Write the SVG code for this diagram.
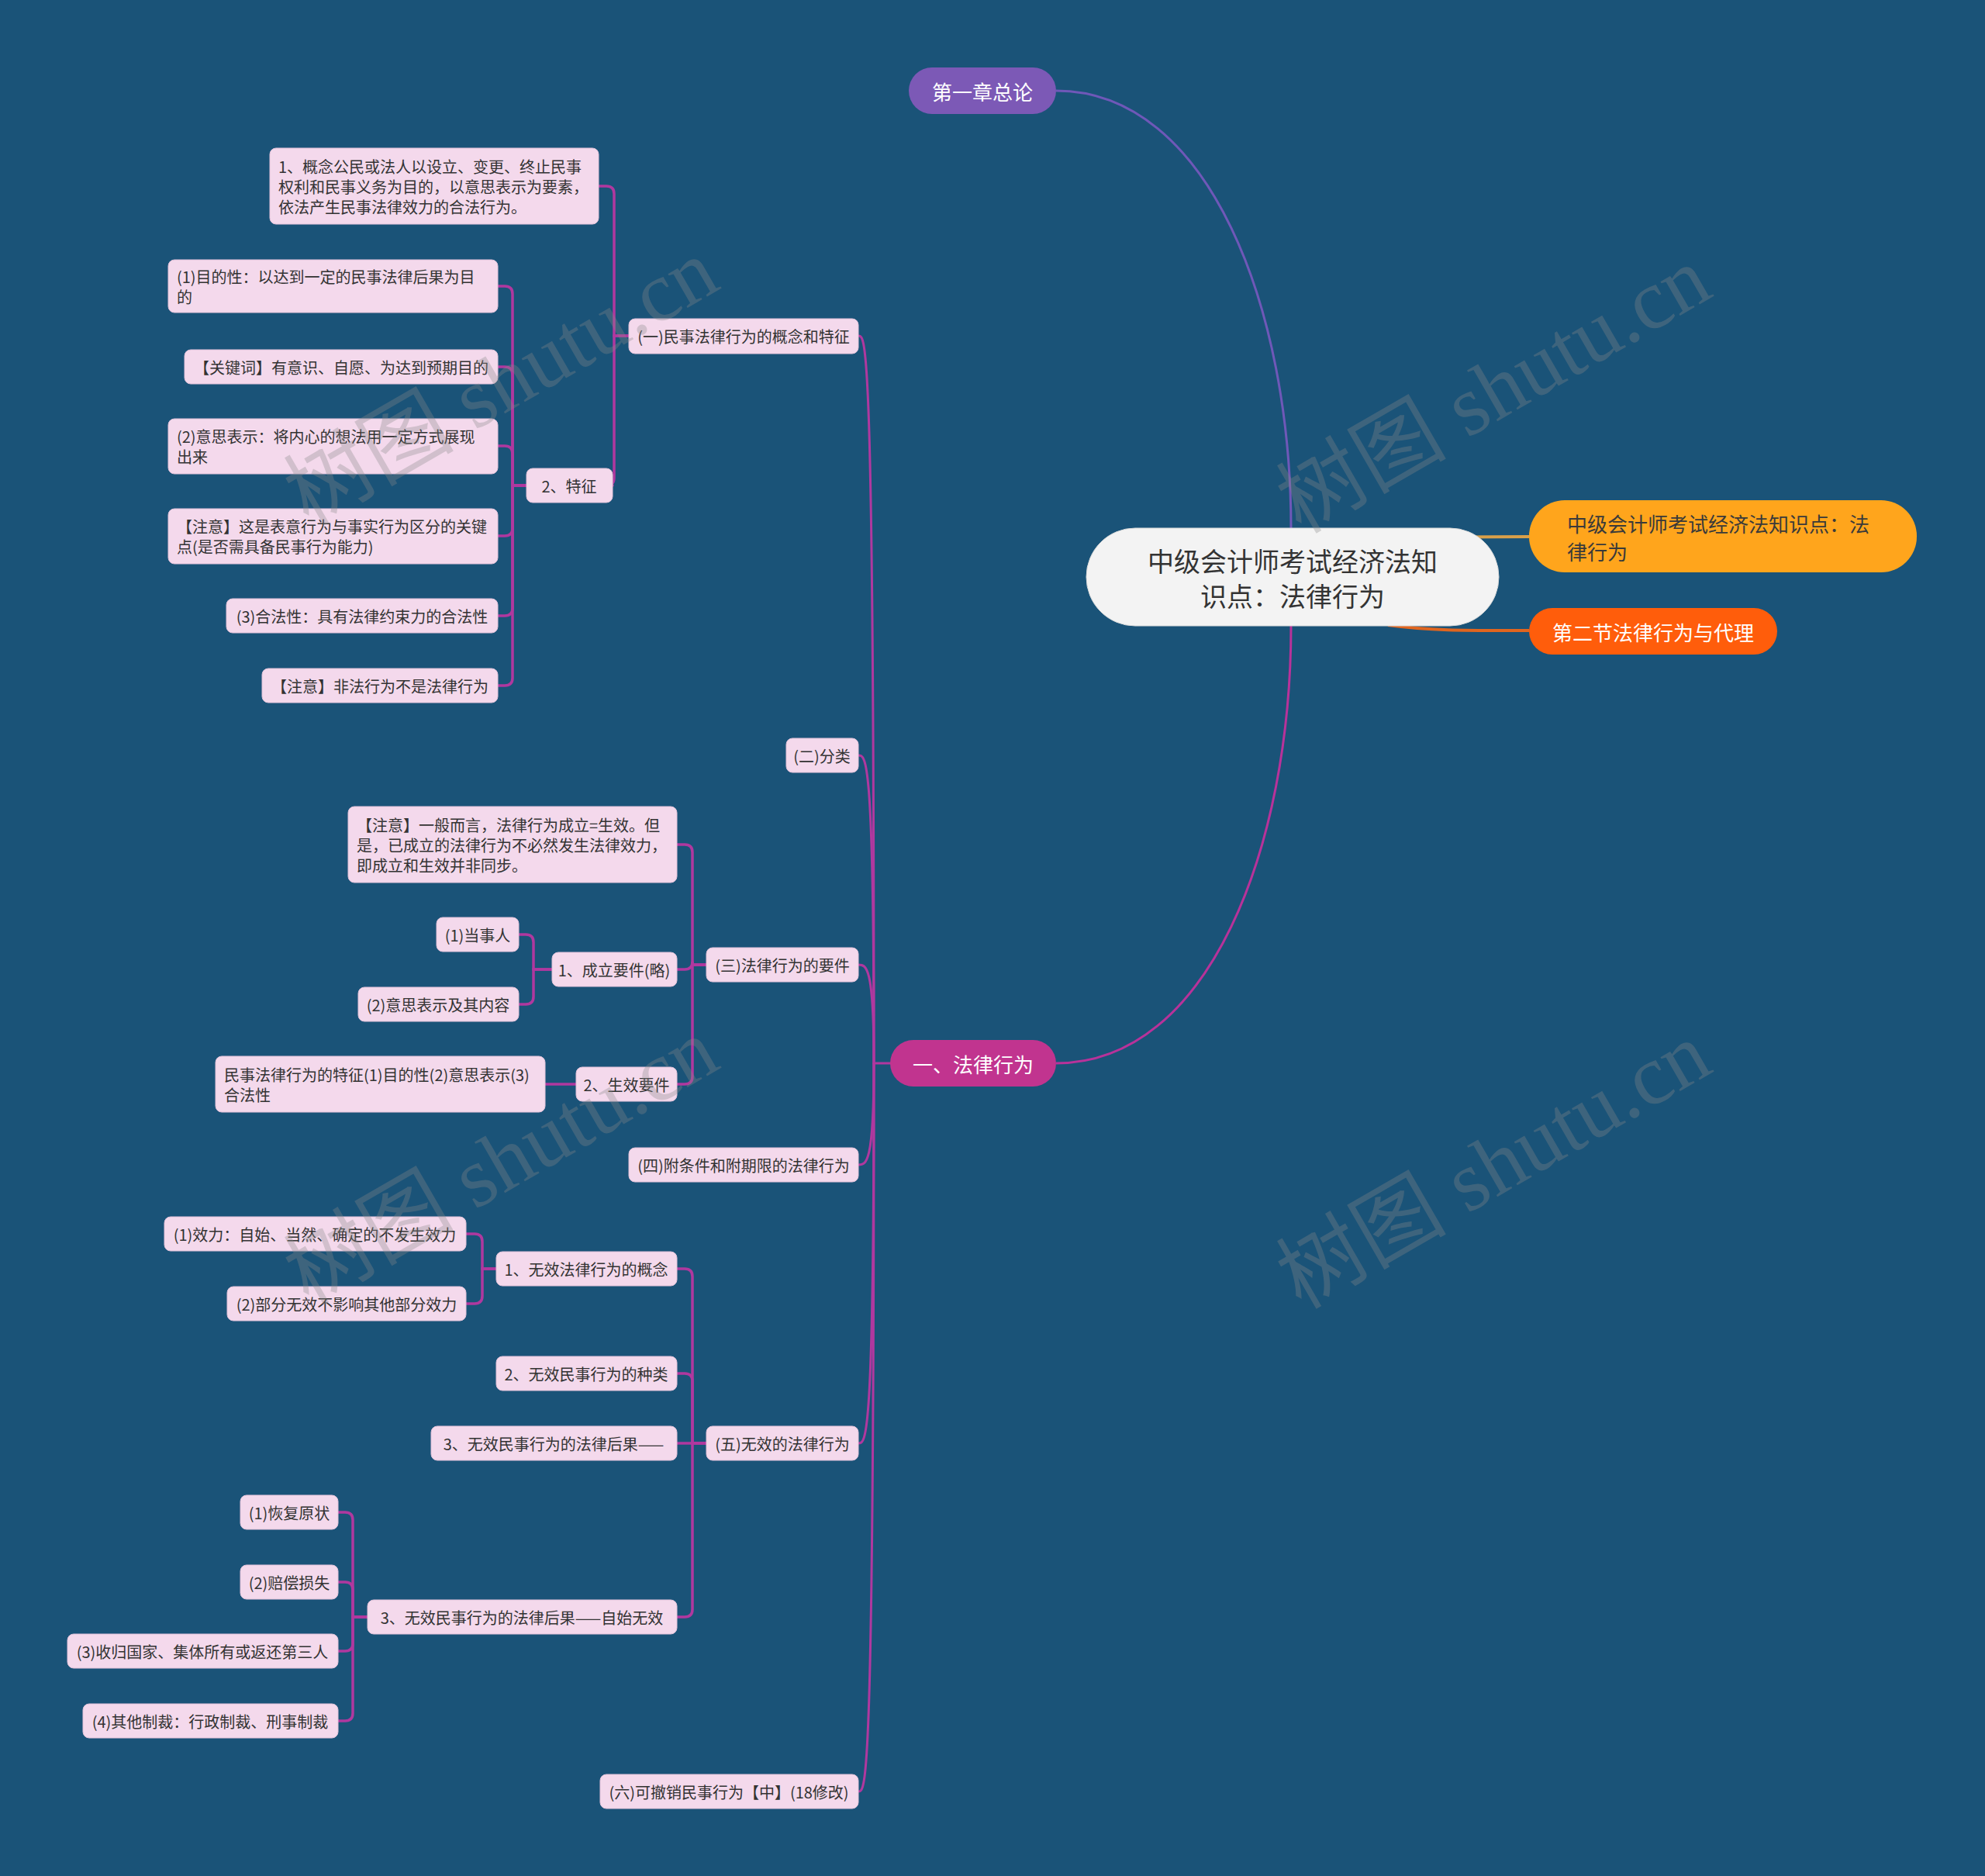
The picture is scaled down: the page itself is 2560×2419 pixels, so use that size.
<svg xmlns="http://www.w3.org/2000/svg" width="2560" height="2419" viewBox="0 0 2560 2419">
<style>
.bg{fill:#1a5378}
.pk rect{fill:#f4d9ec;stroke:#e2c3da;stroke-width:1}
.pk text{font-family:"Noto Sans CJK SC","Noto Sans",sans-serif;font-size:20px;fill:#333333;dominant-baseline:central}
.c{text-anchor:middle}
.conn path{fill:none;stroke:#b0389f;stroke-width:3.5;stroke-linecap:round}
.conn path.l2{stroke-width:3}
.big text{font-family:"Noto Sans CJK SC","Noto Sans",sans-serif;dominant-baseline:central}
.wm text{font-family:"Liberation Serif","Noto Sans CJK SC",serif;font-size:110px;fill:#8a8a8a;opacity:0.32}
</style>
<rect class="bg" x="0" y="0" width="2560" height="2419"/>

<g id="connectors">
  <path d="M1362 117 C1560 117 1665 400 1665 681" fill="none" stroke="#6f58b8" stroke-width="3"/>
  <path d="M1362 1371 C1560 1371 1665 1090 1665 807" fill="none" stroke="#b8329a" stroke-width="3"/>
  <path d="M1800 694 C1880 692 1930 692 1972 692" fill="none" stroke="#d9a04a" stroke-width="4"/>
  <path d="M1790 806 C1850 814 1900 813 1972 813" fill="none" stroke="#e0651f" stroke-width="4"/>
  <g class="conn">
    <path class="l2" d="M1148 1371 H1127"/>
    <path class="l2" d="M1127 1371 C1127 433 1117 433 1107 433"/>
    <path class="l2" d="M1127 1371 C1127 974 1117 974 1107 974"/>
    <path class="l2" d="M1127 1371 C1127 1244 1117 1244 1107 1244"/>
    <path class="l2" d="M1127 1371 C1127 1502 1117 1502 1107 1502"/>
    <path class="l2" d="M1127 1371 C1127 1861 1117 1861 1107 1861"/>
    <path class="l2" d="M1127 1371 C1127 2310 1117 2310 1107 2310"/>
    <!-- (一) -->
    <path d="M811 433 H792 V250 Q792 240 782 240 H772"/>
    <path d="M811 433 H792 V616 Q792 626 782 626 H790"/>
    <!-- 2、特征 -->
    <path d="M679 626 H661 V379 Q661 369 651 369 H642"/>
    <path d="M679 626 H661 V483 Q661 473 651 473 H642"/>
    <path d="M679 626 H661 V585 Q661 575 651 575 H642"/>
    <path d="M679 626 H661 V681 Q661 691 651 691 H642"/>
    <path d="M679 626 H661 V784 Q661 794 651 794 H642"/>
    <path d="M679 626 H661 V874 Q661 884 651 884 H642"/>
    <!-- (三) -->
    <path d="M911 1244 H893 V1099 Q893 1089 883 1089 H873"/>
    <path d="M911 1244 H893 V1240 Q893 1250 883 1250 H873"/>
    <path d="M911 1244 H893 V1388 Q893 1398 883 1398 H873"/>
    <!-- 1、成立要件 -->
    <path d="M712 1250 H688 V1215 Q688 1205 678 1205 H669"/>
    <path d="M712 1250 H688 V1285 Q688 1295 678 1295 H669"/>
    <!-- 2、生效要件 -->
    <path d="M743 1398 H703"/>
    <!-- (五) -->
    <path d="M911 1861 H893 V1646 Q893 1636 883 1636 H873"/>
    <path d="M911 1861 H893 V1781 Q893 1771 883 1771 H873"/>
    <path d="M911 1861 H873"/>
    <path d="M911 1861 H893 V2075 Q893 2085 883 2085 H873"/>
    <!-- 1、无效法律行为的概念 -->
    <path d="M640 1636 H622 V1601 Q622 1591 612 1591 H601"/>
    <path d="M640 1636 H622 V1671 Q622 1681 612 1681 H601"/>
    <!-- 3、...自始无效 -->
    <path d="M474 2085 H455 V1960 Q455 1950 445 1950 H436"/>
    <path d="M474 2085 H455 V2050 Q455 2040 445 2040 H436"/>
    <path d="M474 2085 H455 V2119 Q455 2129 445 2129 H436"/>
    <path d="M474 2085 H455 V2209 Q455 2219 445 2219 H436"/>
  </g>
</g>

<g class="big">
  <g id="center">
    <rect x="1401" y="681" width="532" height="126" rx="63" fill="#f3f3f3" stroke="#dddddd" stroke-width="1"/>
    <text x="1667" y="722" font-size="34" fill="#333333" text-anchor="middle">中级会计师考试经济法知</text>
    <text x="1667" y="767" font-size="34" fill="#333333" text-anchor="middle">识点：法律行为</text>
  </g>
  <g id="n-ch1">
    <rect x="1172" y="87" width="190" height="60" rx="30" fill="#7c59b6"/>
    <text x="1267" y="117" font-size="26" fill="#ffffff" text-anchor="middle">第一章总论</text>
  </g>
  <g id="n-title">
    <rect x="1972" y="645" width="500" height="93" rx="46" fill="#ffa51c"/>
    <text x="2021" y="674" font-size="26" fill="#3a3a3a">中级会计师考试经济法知识点：法</text>
    <text x="2021" y="710" font-size="26" fill="#3a3a3a">律行为</text>
  </g>
  <g id="n-sec2">
    <rect x="1972" y="784" width="320" height="60" rx="30" fill="#ff5d0b"/>
    <text x="2132" y="814" font-size="26" fill="#ffffff" text-anchor="middle">第二节法律行为与代理</text>
  </g>
  <g id="n-main">
    <rect x="1148" y="1341" width="214" height="60" rx="30" fill="#c1348f"/>
    <text x="1255" y="1371" font-size="26" fill="#ffffff" text-anchor="middle">一、法律行为</text>
  </g>
</g>

<g class="pk">
  <g id="n-1"><rect x="811" y="411" width="296" height="45" rx="8"/><text class="c" x="959" y="433">(一)民事法律行为的概念和特征</text></g>
  <g id="n-1-1"><rect x="348" y="191" width="424" height="98" rx="8"/>
    <text x="359" y="214">1、概念公民或法人以设立、变更、终止民事</text>
    <text x="359" y="240">权利和民事义务为目的，以意思表示为要素，</text>
    <text x="359" y="266">依法产生民事法律效力的合法行为。</text></g>
  <g id="n-1-2"><rect x="679" y="604" width="111" height="44" rx="8"/><text class="c" x="734" y="626">2、特征</text></g>
  <g id="n-1-2-1"><rect x="217" y="335" width="425" height="68" rx="8"/>
    <text x="228" y="356">(1)目的性：以达到一定的民事法律后果为目</text>
    <text x="228" y="382">的</text></g>
  <g id="n-1-2-2"><rect x="238" y="451" width="404" height="44" rx="8"/><text class="c" x="440" y="473">【关键词】有意识、自愿、为达到预期目的</text></g>
  <g id="n-1-2-3"><rect x="217" y="540" width="425" height="71" rx="8"/>
    <text x="228" y="562">(2)意思表示：将内心的想法用一定方式展现</text>
    <text x="228" y="588">出来</text></g>
  <g id="n-1-2-4"><rect x="217" y="656" width="425" height="71" rx="8"/>
    <text x="228" y="678">【注意】这是表意行为与事实行为区分的关键</text>
    <text x="228" y="704">点(是否需具备民事行为能力)</text></g>
  <g id="n-1-2-5"><rect x="292" y="772" width="350" height="44" rx="8"/><text class="c" x="467" y="794">(3)合法性：具有法律约束力的合法性</text></g>
  <g id="n-1-2-6"><rect x="338" y="862" width="304" height="44" rx="8"/><text class="c" x="490" y="884">【注意】非法行为不是法律行为</text></g>

  <g id="n-2"><rect x="1014" y="952" width="93" height="44" rx="8"/><text class="c" x="1060" y="974">(二)分类</text></g>

  <g id="n-3"><rect x="911" y="1222" width="196" height="44" rx="8"/><text class="c" x="1009" y="1244">(三)法律行为的要件</text></g>
  <g id="n-3-0"><rect x="449" y="1040" width="424" height="98" rx="8"/>
    <text x="460" y="1063">【注意】一般而言，法律行为成立=生效。但</text>
    <text x="460" y="1089">是，已成立的法律行为不必然发生法律效力，</text>
    <text x="460" y="1115">即成立和生效并非同步。</text></g>
  <g id="n-3-1"><rect x="712" y="1228" width="161" height="44" rx="8"/><text class="c" x="792" y="1250">1、成立要件(略)</text></g>
  <g id="n-3-1-1"><rect x="563" y="1183" width="106" height="44" rx="8"/><text class="c" x="616" y="1205">(1)当事人</text></g>
  <g id="n-3-1-2"><rect x="462" y="1273" width="207" height="44" rx="8"/><text class="c" x="565" y="1295">(2)意思表示及其内容</text></g>
  <g id="n-3-2"><rect x="743" y="1376" width="130" height="44" rx="8"/><text class="c" x="808" y="1398">2、生效要件</text></g>
  <g id="n-3-2-1"><rect x="278" y="1362" width="425" height="72" rx="8"/>
    <text x="289" y="1385">民事法律行为的特征(1)目的性(2)意思表示(3)</text>
    <text x="289" y="1411">合法性</text></g>

  <g id="n-4"><rect x="811" y="1480" width="296" height="44" rx="8"/><text class="c" x="959" y="1502">(四)附条件和附期限的法律行为</text></g>

  <g id="n-5"><rect x="911" y="1839" width="196" height="44" rx="8"/><text class="c" x="1009" y="1861">(五)无效的法律行为</text></g>
  <g id="n-5-1"><rect x="640" y="1614" width="233" height="44" rx="8"/><text class="c" x="756" y="1636">1、无效法律行为的概念</text></g>
  <g id="n-5-1-1"><rect x="212" y="1569" width="389" height="44" rx="8"/><text class="c" x="406" y="1591">(1)效力：自始、当然、确定的不发生效力</text></g>
  <g id="n-5-1-2"><rect x="293" y="1659" width="308" height="44" rx="8"/><text class="c" x="447" y="1681">(2)部分无效不影响其他部分效力</text></g>
  <g id="n-5-2"><rect x="640" y="1749" width="233" height="44" rx="8"/><text class="c" x="756" y="1771">2、无效民事行为的种类</text></g>
  <g id="n-5-3"><rect x="556" y="1839" width="317" height="44" rx="8"/><text class="c" x="714" y="1861">3、无效民事行为的法律后果——</text></g>
  <g id="n-5-4"><rect x="474" y="2063" width="399" height="44" rx="8"/><text class="c" x="673" y="2085">3、无效民事行为的法律后果——自始无效</text></g>
  <g id="n-5-4-1"><rect x="310" y="1928" width="126" height="44" rx="8"/><text class="c" x="373" y="1950">(1)恢复原状</text></g>
  <g id="n-5-4-2"><rect x="310" y="2018" width="126" height="44" rx="8"/><text class="c" x="373" y="2040">(2)赔偿损失</text></g>
  <g id="n-5-4-3"><rect x="87" y="2107" width="349" height="44" rx="8"/><text class="c" x="261" y="2129">(3)收归国家、集体所有或返还第三人</text></g>
  <g id="n-5-4-4"><rect x="107" y="2197" width="329" height="44" rx="8"/><text class="c" x="271" y="2219">(4)其他制裁：行政制裁、刑事制裁</text></g>

  <g id="n-6"><rect x="774" y="2288" width="333" height="44" rx="8"/><text class="c" x="940" y="2310">(六)可撤销民事行为【中】(18修改)</text></g>
</g>

<g class="wm">
  <text x="665" y="525" text-anchor="middle" transform="rotate(-30 665 525)">树图 shutu.cn</text>
  <text x="1945" y="535" text-anchor="middle" transform="rotate(-30 1945 535)">树图 shutu.cn</text>
  <text x="665" y="1530" text-anchor="middle" transform="rotate(-30 665 1530)">树图 shutu.cn</text>
  <text x="1945" y="1535" text-anchor="middle" transform="rotate(-30 1945 1535)">树图 shutu.cn</text>
</g>
</svg>
